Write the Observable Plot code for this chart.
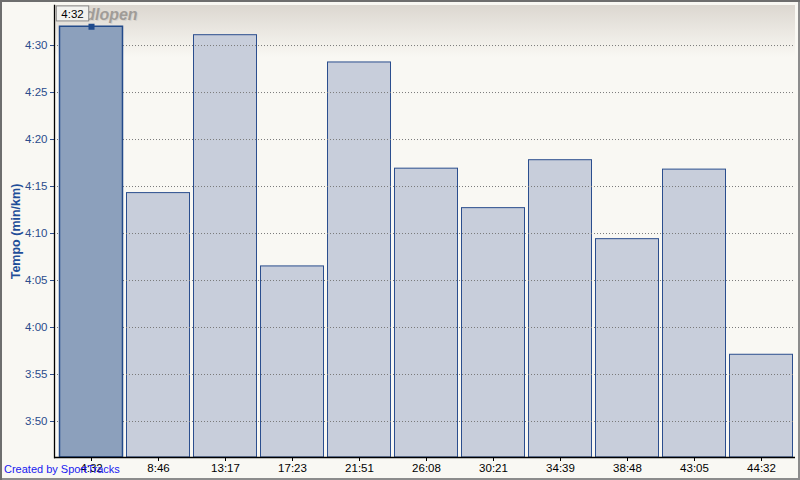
<!DOCTYPE html>
<html><head><meta charset="utf-8">
<script src="https://cdn.jsdelivr.net/npm/d3@7"></script>
<script src="https://cdn.jsdelivr.net/npm/@observablehq/plot@0.6"></script>
<style>
html,body{margin:0;padding:0;background:#f9f8f3;}
#wrap{position:relative;width:800px;height:480px;overflow:hidden;background:#f9f8f3;}
#caption{position:absolute;left:4px;top:463px;font:11px "Liberation Sans",Arial,sans-serif;color:#1a1af0;white-space:nowrap;}
#border{position:absolute;left:0;top:0;width:800px;height:480px;box-sizing:border-box;box-shadow:inset 2px 2px 0 #6e6e6e, inset -2px -2px 0 #8c8c8c;pointer-events:none;}
svg{display:block;}
</style></head>
<body><div id="wrap"></div>
<script>
// ---- data ----
const splits = ["4:32","8:46","13:17","17:23","21:51","26:08","30:21","34:39","38:48","43:05","44:32"];
const paces = [272, 254.3, 271.1, 246.5, 268.2, 256.9, 252.7, 257.8, 249.4, 256.8, 237.1]; // seconds per km
const yTicks = [230, 235, 240, 245, 250, 255, 260, 265, 270];
const yDomain = [226.17, 274.26];
const title = "Hardlopen";
const yLabel = "Tempo (min/km)";
const caption = "Created by SportTracks";
const selected = 0;

const fmt = s => { const r = Math.round(s); return Math.floor(r/60) + ":" + String(r%60).padStart(2,"0"); };
const idx = d3.range(splits.length);
const others = idx.filter(i => i !== selected);
const font = '"Liberation Sans", Arial, sans-serif';

const chart = Plot.plot({
  width: 800, height: 480,
  marginLeft: 54, marginRight: 5, marginTop: 5, marginBottom: 23,
  style: {background: "transparent", fontFamily: font, fontSize: "11px"},
  x: {type: "band", domain: splits, range: [57.5, 793.5], paddingInner: 0.045, paddingOuter: 0},
  y: {domain: yDomain},
  marks: [
    Plot.barY(others, {x: i => splits[i], y1: yDomain[0], y2: i => paces[i], fill: "#c8cedb", stroke: "#2b4e8e", strokeWidth: 1, insetLeft: 0.5, insetRight: 0.5}),
    Plot.gridY(yTicks, {stroke: "#7a7a7a", strokeOpacity: 1, strokeDasharray: "1,2"}),
    Plot.barY([selected], {x: i => splits[i], y1: yDomain[0], y2: i => paces[i], fill: "#8ca0bc", stroke: "#234a8a", strokeWidth: 1.5, insetLeft: 0.5, insetRight: 0.5}),
    Plot.axisY(yTicks, {tickFormat: fmt, tickSize: 4, tickPadding: 3, color: "#2b4c8c", label: null, fontSize: 11.5}),
    Plot.axisX({tickSize: 4, tickPadding: 2, color: "#000", label: null, fontSize: 11.5}),
    Plot.ruleY([yDomain[0]], {stroke: "#000", strokeWidth: 1.3}),
    Plot.frame({anchor: "left", stroke: "#000", strokeWidth: 1.3}),
    Plot.text([yLabel], {frameAnchor: "left", textAnchor: "middle", lineAnchor: "middle", rotate: -90, dx: -39, fill: "#1f4e99", fontWeight: "bold", fontSize: 12.5}),
    Plot.text([title], {frameAnchor: "top-left", lineAnchor: "middle", dx: 5, dy: 10, textAnchor: "start", fill: "#d6d2cc", fontWeight: "bold", fontStyle: "italic", fontSize: 16}),
    Plot.text([title], {frameAnchor: "top-left", lineAnchor: "middle", dx: 4, dy: 9, textAnchor: "start", fill: "#a09c98", fontWeight: "bold", fontStyle: "italic", fontSize: 16}),
    Plot.dot([selected], {x: i => splits[i], y: i => paces[i], symbol: "square", r: 3.4, fill: "#1f4a8c", stroke: "none"}),
    Plot.text([selected], {x: i => splits[i], y: i => paces[i], text: i => fmt(paces[i]), dx: -19, dy: -12.5, fill: "#000", fontSize: 11.5})
  ]
});

const wrap = document.getElementById("wrap");
wrap.appendChild(chart);

const svg = d3.select(chart);
// tooltip box behind the tooltip text (last text equal to the selected value)
const tipLabel = fmt(paces[selected]);
const matches = svg.selectAll("text").filter(function(){ return this.textContent === tipLabel; }).nodes();
const tipNode = matches[matches.length - 1];
if (tipNode) {
  const bb = tipNode.getBBox();
  d3.select(tipNode.parentNode).insert("rect", () => tipNode)
    .attr("x", bb.x - 5).attr("y", bb.y - 2).attr("width", bb.width + 10).attr("height", bb.height + 3)
    .attr("transform", tipNode.getAttribute("transform"))
    .attr("fill", "#f2f2ef").attr("stroke", "#8a8a8a").attr("stroke-width", 1);
}

// top gradient in plot area
const defs = svg.insert("defs", ":first-child");
const g = defs.append("linearGradient").attr("id","topgrad").attr("x1",0).attr("y1",0).attr("x2",0).attr("y2",1);
g.append("stop").attr("offset","0%").attr("stop-color","#dcd7d0");
g.append("stop").attr("offset","100%").attr("stop-color","#f9f8f3");
svg.insert("rect", "defs + *").attr("x",54).attr("y",5).attr("width",741).attr("height",52).attr("fill","url(#topgrad)");

const cap = document.createElement("div");
cap.id = "caption"; cap.textContent = caption; wrap.appendChild(cap);
const border = document.createElement("div");
border.id = "border"; wrap.appendChild(border);
</script>
</body></html>
